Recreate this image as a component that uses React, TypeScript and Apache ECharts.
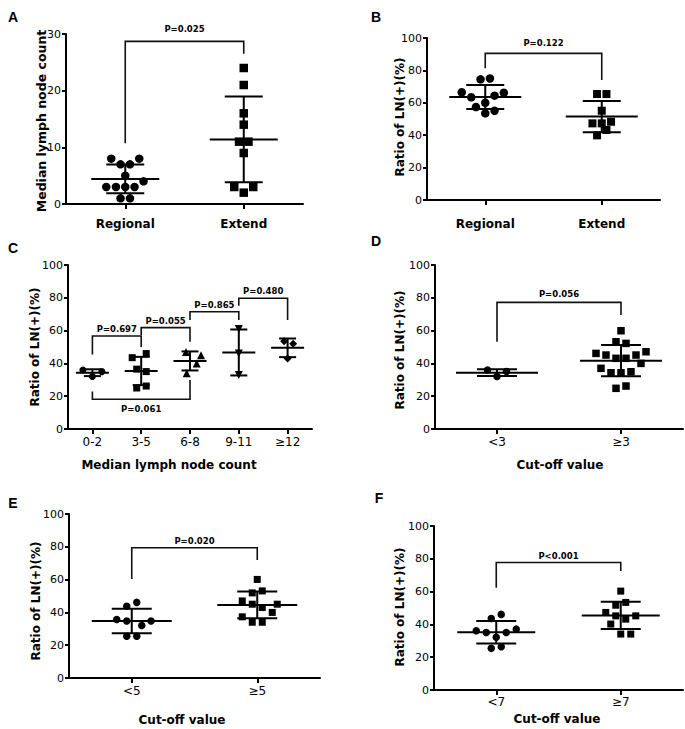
import React, { useEffect, useRef } from "react";
import * as echarts from "echarts";

// ---------- Panel A: median lymph node count ----------
const aCategories = ["Regional", "Extend"];
const aRegional = [8, 8, 7, 7, 5, 4, 3, 3, 3, 3, 1, 1];
const aExtend = [24, 21, 16, 14, 11, 11, 9, 3, 3, 2];
const aRegionalJitter = [-14, 14, -4.7, 4.7, 0, 18.3, -19, -9.3, 0, 9.3, -4.7, 4.7];
const aExtendJitter = [0, 0, 0, 0, -4.7, 4.7, 0, -9.5, 9.5, 0];
const aYTicks = { max: 30, interval: 10 };

// ---------- Panel B: ratio of LN(+) by extent ----------
const bCategories = ["Regional", "Extend"];
const bRegional = [74.5, 75, 66.5, 63.4, 64.4, 66.2, 60, 57.4, 55.1, 53.5];
const bExtend = [65.4, 65.4, 55.1, 47.3, 47.3, 48.3, 43.2, 39.9];
const bRegionalJitter = [-4.7, 4.7, -23.5, -14, 9.3, 18.6, 0, -9.3, 9.3, 0];
const bExtendJitter = [-4.7, 4.7, 0, -9.3, 0, 9.3, 4.7, -4.7];

// ---------- Panel C: ratio by median lymph node count ----------
const cCategories = ["0-2", "3-5", "6-8", "9-11", "≥12"];
const c0to2 = [36, 32, 35];
const c3to5 = [43.5, 46, 36.5, 35, 25, 26.2];
const c6to8 = [47, 45, 40, 34];
const c9to11 = [61, 46, 33];
const c12plus = [53.5, 52, 43];
const c0to2Jitter = [-9.5, 0, 9.5];
const c3to5Jitter = [-9, 5, -4.5, 5, -4.5, 5];
const c6to8Jitter = [-4, 11, 6.7, -3.3];
const c9to11Jitter = [0, 0, 0];
const c12plusJitter = [-3.5, 5.5, 0];

// ---------- Panel D: cut-off 3 ----------
const dCategories = ["<3", "≥3"];
const dLow = [36, 32, 35];
const dHigh = [59.9, 53.2, 52.2, 46.1, 45.1, 43.1, 43.1, 45.1, 47.1, 40, 37, 34.3, 34.3, 34.9, 24.8, 26.2];
const dLowJitter = [-9.5, 0, 9.5];
const dHighJitter = [0, -5, 5, -25, -15, -5, 5, 15, 25, 20, -20, -10, 0, 10, -5, 5];

// ---------- Panel E: cut-off 5 ----------
const eCategories = ["<5", "≥5"];
const eLow = [43.8, 46.1, 35.7, 34.8, 32, 34.8, 25.5, 25.5];
const eHigh = [60.1, 51.9, 53.1, 47, 45, 43, 45, 40, 37.3, 34, 34];
const eLowJitter = [-5, 5, -15, -5, 10, 19.3, -5, 5];
const eHighJitter = [0, -5, 5, -15, -5, 5, 20, 15, -15, -5, 5];

// ---------- Panel F: cut-off 7 ----------
const fCategories = ["<7", "≥7"];
const fLow = [43.6, 46.1, 36.1, 35.1, 32.1, 35.1, 37.1, 25.4, 26.4];
const fHigh = [60.3, 51.7, 53.4, 47.3, 45.2, 43.2, 45.2, 40.2, 34.1, 34.1];
const fLowJitter = [-5, 5, -20, -10, 0, 10, 20, -5, 5];
const fHighJitter = [0, -5, 5, -15, -5, 5, 15, -10, 0, 10];

const ratioTicks = { max: 100, interval: 20 };

// Significance brackets: [fromCategory, toCategory, barValue, leftLegEnd, rightLegEnd]
const aBrackets = [[0, 1, 28.7, 10.7, 26.5]];
const aBracketLabels = ["P=0.025"];
const bBrackets = [[0, 1, 90.5, 81.3, 74]];
const bBracketLabels = ["P=0.122"];
const cBrackets = [
  [0, 1, 56.7, 45.5, 50],
  [1, 2, 61.8, 57.3, 53.2],
  [2, 3, 71.5, 66.5, 66.5],
  [3, 4, 79.7, 75.2, 66.5],
  [0, 2, 18.1, 22.8, 29.9],
];
const cBracketLabels = ["P=0.697", "P=0.055", "P=0.865", "P=0.480", "P=0.061"];
const dBrackets = [[0, 1, 77.2, 53.2, 69.5]];
const dBracketLabels = ["P=0.056"];
const eBrackets = [[0, 1, 79.4, 60.3, 71.9]];
const eBracketLabels = ["P=0.020"];
const fBrackets = [[0, 1, 77.7, 62.3, 72.6]];
const fBracketLabels = ["P<0.001"];

const yTitleRatio = "Ratio of LN(+)(%)";

type Group = { values: number[]; jitter: number[]; symbol: string; rotate?: number; size: number };

const panels = [
  {
    letter: "A", letterPos: [13, 17],
    grid: { left: 66, top: 34, width: 237, height: 170 },
    categories: aCategories, ticks: aYTicks,
    groups: [
      { values: aRegional, jitter: aRegionalJitter, symbol: "circle", size: 8.5 },
      { values: aExtend, jitter: aExtendJitter, symbol: "rect", size: 8.5 },
    ] as Group[],
    brackets: aBrackets, bracketLabels: aBracketLabels, labelGap: 12,
    yTitle: "Median lymph node count", yTitlePos: [41, 121], yTitleSize: 12.5,
    catBold: true, catSize: 12, labelMargin: 14,
    meanHalf: 34, capHalf: 19,
  },
  {
    letter: "B", letterPos: [376, 17],
    grid: { left: 427, top: 38, width: 233, height: 162 },
    categories: bCategories, ticks: ratioTicks,
    groups: [
      { values: bRegional, jitter: bRegionalJitter, symbol: "circle", size: 8.5 },
      { values: bExtend, jitter: bExtendJitter, symbol: "rect", size: 8 },
    ] as Group[],
    brackets: bBrackets, bracketLabels: bBracketLabels, labelGap: 10,
    yTitle: yTitleRatio, yTitlePos: [400, 117], yTitleSize: 12,
    catBold: true, catSize: 12, labelMargin: 18,
    meanHalf: 36, capHalf: 19,
  },
  {
    letter: "C", letterPos: [13, 248],
    grid: { left: 68, top: 265, width: 244, height: 164 },
    categories: cCategories, ticks: ratioTicks,
    groups: [
      { values: c0to2, jitter: c0to2Jitter, symbol: "circle", size: 7 },
      { values: c3to5, jitter: c3to5Jitter, symbol: "rect", size: 7 },
      { values: c6to8, jitter: c6to8Jitter, symbol: "triangle", size: 8 },
      { values: c9to11, jitter: c9to11Jitter, symbol: "triangle", rotate: 180, size: 8 },
      { values: c12plus, jitter: c12plusJitter, symbol: "diamond", size: 8 },
    ] as Group[],
    brackets: cBrackets, bracketLabels: cBracketLabels, labelGap: 7,
    yTitle: yTitleRatio, yTitlePos: [35, 347], yTitleSize: 12,
    xTitle: "Median lymph node count", xTitlePos: [169, 465],
    catBold: false, catSize: 12, labelMargin: 7,
    meanHalf: 16.5, capHalf: 8.5,
  },
  {
    letter: "D", letterPos: [376, 241],
    grid: { left: 435, top: 265, width: 248, height: 164 },
    categories: dCategories, ticks: ratioTicks,
    groups: [
      { values: dLow, jitter: dLowJitter, symbol: "circle", size: 7.5 },
      { values: dHigh, jitter: dHighJitter, symbol: "rect", size: 7.5 },
    ] as Group[],
    brackets: dBrackets, bracketLabels: dBracketLabels, labelGap: 8,
    yTitle: yTitleRatio, yTitlePos: [400, 350], yTitleSize: 12,
    xTitle: "Cut-off value", xTitlePos: [560, 465],
    catBold: false, catSize: 12, labelMargin: 7,
    meanHalf: 41, capHalf: 20,
  },
  {
    letter: "E", letterPos: [13, 503],
    grid: { left: 69, top: 514, width: 251, height: 164 },
    categories: eCategories, ticks: ratioTicks,
    groups: [
      { values: eLow, jitter: eLowJitter, symbol: "circle", size: 7.5 },
      { values: eHigh, jitter: eHighJitter, symbol: "rect", size: 7 },
    ] as Group[],
    brackets: eBrackets, bracketLabels: eBracketLabels, labelGap: 7,
    yTitle: yTitleRatio, yTitlePos: [36, 601], yTitleSize: 12,
    xTitle: "Cut-off value", xTitlePos: [182, 720],
    catBold: false, catSize: 12, labelMargin: 7,
    meanHalf: 40, capHalf: 20,
  },
  {
    letter: "F", letterPos: [379, 498],
    grid: { left: 434, top: 526, width: 249, height: 164 },
    categories: fCategories, ticks: ratioTicks,
    groups: [
      { values: fLow, jitter: fLowJitter, symbol: "circle", size: 7.5 },
      { values: fHigh, jitter: fHighJitter, symbol: "rect", size: 7 },
    ] as Group[],
    brackets: fBrackets, bracketLabels: fBracketLabels, labelGap: 6.5,
    yTitle: yTitleRatio, yTitlePos: [400, 607], yTitleSize: 12,
    xTitle: "Cut-off value", xTitlePos: [557, 719],
    catBold: false, catSize: 12, labelMargin: 6,
    meanHalf: 39, capHalf: 20,
  },
];

const mean = (v: number[]) => v.reduce((s, x) => s + x, 0) / v.length;
const sd = (v: number[]) => {
  const m = mean(v);
  return Math.sqrt(v.reduce((s, x) => s + (x - m) * (x - m), 0) / (v.length - 1));
};

const FONT = '"DejaVu Sans", "Liberation Sans", sans-serif';

function buildOption() {
  const grid: any[] = [];
  const xAxis: any[] = [];
  const yAxis: any[] = [];
  const series: any[] = [];
  const graphic: any[] = [];

  panels.forEach((p, i) => {
    grid.push({ ...p.grid, containLabel: false, outerBoundsMode: "none" });
    xAxis.push({
      type: "category",
      gridIndex: i,
      data: p.categories,
      boundaryGap: true,
      axisLine: { show: true, lineStyle: { color: "#000", width: 2 } },
      axisTick: { show: true, alignWithLabel: true, length: 5, lineStyle: { color: "#000", width: 2 } },
      axisLabel: {
        show: true,
        interval: 0,
        margin: p.labelMargin,
        color: "#000",
        fontFamily: FONT,
        fontSize: p.catSize,
        fontWeight: p.catBold ? "bold" : "normal",
      },
      splitLine: { show: false },
    });
    yAxis.push({
      type: "value",
      gridIndex: i,
      min: 0,
      max: p.ticks.max,
      interval: p.ticks.interval,
      axisLine: { show: true, lineStyle: { color: "#000", width: 2 } },
      axisTick: { show: true, length: 4, lineStyle: { color: "#000", width: 2 } },
      axisLabel: { show: true, margin: 5, color: "#000", fontFamily: FONT, fontSize: 11 },
      splitLine: { show: false },
    });

    // points
    p.groups.forEach((g, k) => {
      series.push({
        type: "scatter",
        xAxisIndex: i,
        yAxisIndex: i,
        symbol: g.symbol,
        symbolSize: g.size,
        symbolRotate: g.rotate || 0,
        itemStyle: { color: "#000", opacity: 1 },
        silent: true,
        z: 3,
        clip: false,
        data: g.values.map((v, j) => ({ value: [k, v], symbolOffset: [g.jitter[j], 0] })),
      });
    });

    // mean ± SD
    const mh = p.meanHalf;
    const ch = p.capHalf;
    series.push({
      type: "custom",
      xAxisIndex: i,
      yAxisIndex: i,
      silent: true,
      z: 4,
      data: p.groups.map((g, k) => [k, mean(g.values), sd(g.values)]),
      renderItem: (params: any, api: any) => {
        const x = api.value(0);
        const m = api.value(1);
        const s = api.value(2);
        const c = api.coord([x, m]);
        const t = api.coord([x, m + s]);
        const b = api.coord([x, m - s]);
        const st = () => ({ stroke: "#000", lineWidth: 2 });
        return {
          type: "group",
          children: [
            { type: "line", shape: { x1: c[0] - mh, y1: c[1], x2: c[0] + mh, y2: c[1] }, style: st() },
            { type: "line", shape: { x1: c[0], y1: t[1], x2: c[0], y2: b[1] }, style: st() },
            { type: "line", shape: { x1: c[0] - ch, y1: t[1], x2: c[0] + ch, y2: t[1] }, style: st() },
            { type: "line", shape: { x1: c[0] - ch, y1: b[1], x2: c[0] + ch, y2: b[1] }, style: st() },
          ],
        };
      },
    });

    // significance brackets
    const labels = p.bracketLabels;
    const gap = p.labelGap;
    series.push({
      type: "custom",
      xAxisIndex: i,
      yAxisIndex: i,
      silent: true,
      z: 5,
      data: p.brackets,
      renderItem: (params: any, api: any) => {
        const from = api.value(0);
        const to = api.value(1);
        const bar = api.value(2);
        const le = api.value(3);
        const re = api.value(4);
        const p1 = api.coord([from, le]);
        const p2 = api.coord([from, bar]);
        const p3 = api.coord([to, bar]);
        const p4 = api.coord([to, re]);
        const below = le > bar;
        const ty = below ? p2[1] + gap + 3 : p2[1] - gap;
        return {
          type: "group",
          children: [
            {
              type: "polyline",
              shape: { points: [p1, p2, p3, p4] },
              style: { stroke: "#111", lineWidth: 1.6, fill: "none" },
            },
            {
              type: "text",
              x: (p2[0] + p3[0]) / 2,
              y: ty,
              style: {
                text: labels[params.dataIndex],
                fill: "#000",
                font: `bold 8.5px ${FONT}`,
                align: "center",
                verticalAlign: "middle",
              },
            },
          ],
        };
      },
    });

    graphic.push({
      type: "text",
      x: p.letterPos[0],
      y: p.letterPos[1],
      style: {
        text: p.letter,
        fill: "#000",
        font: 'bold 14px "Liberation Sans", Arial, sans-serif',
        align: "center",
        verticalAlign: "middle",
      },
    });
    graphic.push({
      type: "text",
      x: p.yTitlePos[0],
      y: p.yTitlePos[1],
      rotation: Math.PI / 2,
      style: {
        text: p.yTitle,
        fill: "#000",
        font: `bold ${p.yTitleSize}px ${FONT}`,
        align: "center",
        verticalAlign: "middle",
      },
    });
    if (p.xTitle) {
      graphic.push({
        type: "text",
        x: p.xTitlePos![0],
        y: p.xTitlePos![1],
        style: {
          text: p.xTitle,
          fill: "#000",
          font: `bold 12px ${FONT}`,
          align: "center",
          verticalAlign: "middle",
        },
      });
    }
  });

  return {
    animation: false,
    backgroundColor: "#fff",
    grid,
    xAxis,
    yAxis,
    series,
    graphic,
  };
}

export default function App() {
  const ref = useRef<HTMLDivElement>(null);
  useEffect(() => {
    if (!ref.current) return;
    const chart = echarts.init(ref.current, null, { renderer: "svg" });
    chart.setOption(buildOption() as any);
    return () => chart.dispose();
  }, []);
  return (
    <div
      ref={ref}
      style={{ position: "fixed", left: 0, top: 0, width: 685, height: 729, background: "#fff" }}
    />
  );
}
